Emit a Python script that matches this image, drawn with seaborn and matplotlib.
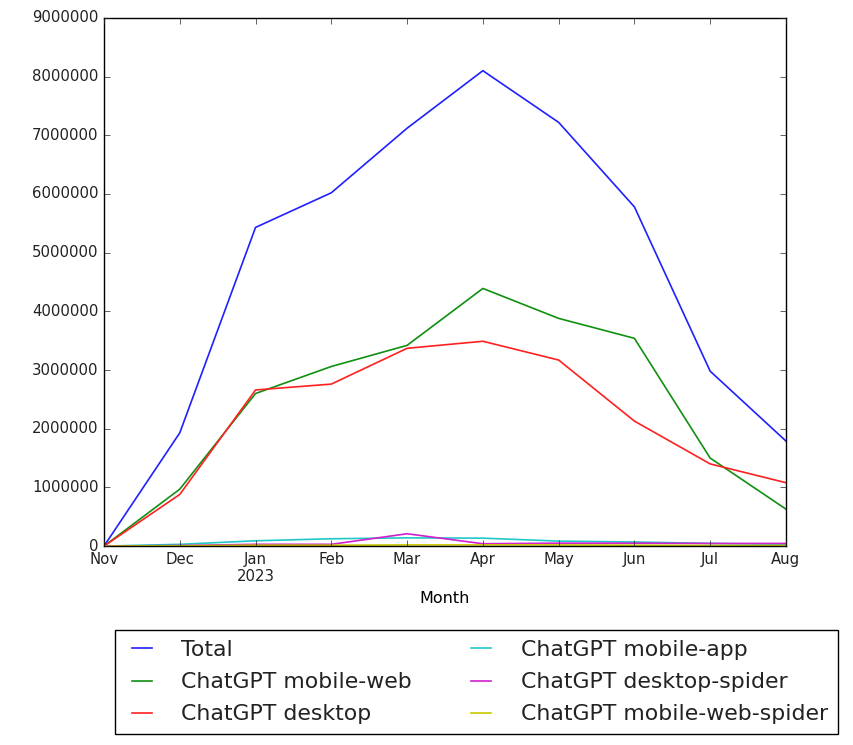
import pandas as pd
import seaborn as sns
import matplotlib.pyplot as plt

# Monthly visits
months = ['Nov', 'Dec', 'Jan\n2023', 'Feb', 'Mar', 'Apr', 'May', 'Jun', 'Jul', 'Aug']
total = [0, 1930000, 5430000, 6020000, 7120000, 8100000, 7220000, 5780000, 2980000, 1790000]
mobile_web = [0, 970000, 2600000, 3060000, 3420000, 4390000, 3880000, 3540000, 1500000, 630000]
desktop = [0, 880000, 2660000, 2760000, 3370000, 3490000, 3170000, 2130000, 1400000, 1080000]
mobile_app = [0, 30000, 90000, 125000, 140000, 135000, 85000, 70000, 45000, 30000]
desktop_spider = [0, 10000, 30000, 30000, 210000, 40000, 50000, 50000, 45000, 45000]
mobile_web_spider = [0, 5000, 15000, 15000, 20000, 20000, 20000, 15000, 10000, 10000]

series = {
    'Total': total,
    'ChatGPT mobile-web': mobile_web,
    'ChatGPT desktop': desktop,
    'ChatGPT mobile-app': mobile_app,
    'ChatGPT desktop-spider': desktop_spider,
    'ChatGPT mobile-web-spider': mobile_web_spider,
}
colors = ['#2020ff', '#109010', '#ff2020', '#20c8c8', '#d020d0', '#c8c800']

rows = []
for name, vals in series.items():
    for i, v in enumerate(vals):
        rows.append({'Month': i, 'Visits': v, 'Series': name})
df = pd.DataFrame(rows)

plt.style.use('classic')
plt.rcParams['text.color'] = '#222222'
plt.rcParams['xtick.color'] = '#222222'
plt.rcParams['ytick.color'] = '#222222'
fig = plt.figure(figsize=(8.54, 7.45), dpi=100, facecolor='white')
ax = fig.add_axes([0.1218, 0.267, 0.7985, 0.709])

sns.lineplot(data=df, x='Month', y='Visits', hue='Series',
             palette=dict(zip(series.keys(), colors)), ax=ax, linewidth=1.2)

ax.set_xlim(0, len(months) - 1)
ax.set_ylim(0, 9000000)
ax.set_xticks(range(len(months)))
ax.set_xticklabels(months)
ax.ticklabel_format(axis='y', style='plain', useOffset=False)
ax.tick_params(labelsize=10.7)
ax.set_xlabel('Month', fontsize=11.5)
ax.set_ylabel('')

handles, labels = ax.get_legend_handles_labels()
ax.legend(handles, labels, ncol=2, loc='upper center',
          bbox_to_anchor=(0.558, 0.154), bbox_transform=fig.transFigure,
          fontsize=15.8, frameon=True, fancybox=False, handlelength=1.5,
          handletextpad=1.05, labelspacing=0.55, columnspacing=2.4,
          borderpad=0.45, borderaxespad=0)

fig.savefig('out.png', dpi=100, facecolor='white')
